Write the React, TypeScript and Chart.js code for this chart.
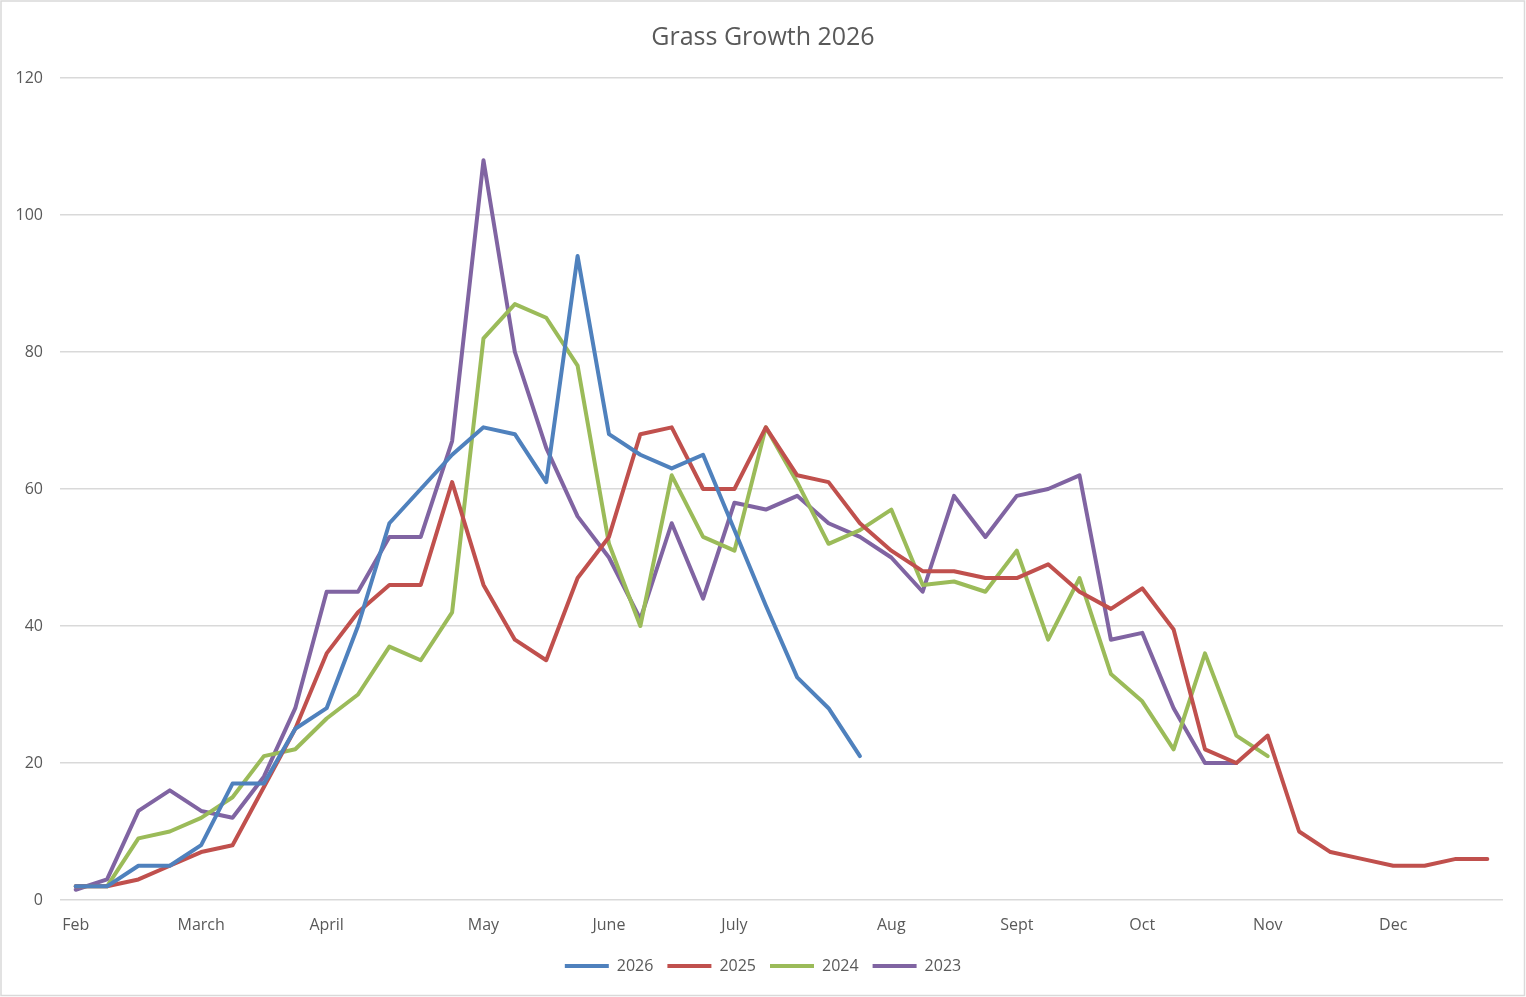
import React, { useEffect, useRef } from "react";
import { Chart, registerables } from "chart.js";

Chart.register(...registerables);

const monthLabels: string[] = [
  "Feb", "", "", "", "March", "", "", "", "April", "", "", "", "", "May", "", "", "",
  "June", "", "", "", "July", "", "", "", "", "Aug", "", "", "", "Sept", "", "", "",
  "Oct", "", "", "", "Nov", "", "", "", "Dec", "", "", "",
];

const series2026: (number | null)[] = [
  2, 2, 5, 5, 8, 17, 17, 25, 28, 40,
  55, 60, 65, 69, 68, 61, 94, 68, 65, 63,
  65, 54, 43, 32.5, 28, 21, null, null, null, null,
  null, null, null, null, null, null, null, null, null, null,
  null, null, null, null, null, null,
];

const series2025: (number | null)[] = [
  2, 2, 3, 5, 7, 8, 16.5, 25, 36, 42,
  46, 46, 61, 46, 38, 35, 47, 53, 68, 69,
  60, 60, 69, 62, 61, 55, 51, 48, 48, 47,
  47, 49, 45, 42.5, 45.5, 39.5, 22, 20, 24, 10,
  7, 6, 5, 5, 6, 6,
];

const series2024: (number | null)[] = [
  2, 2, 9, 10, 12, 15, 21, 22, 26.5, 30,
  37, 35, 42, 82, 87, 85, 78, 52, 40, 62,
  53, 51, 69, 61, 52, 54, 57, 46, 46.5, 45,
  51, 38, 47, 33, 29, 22, 36, 24, 21, null,
  null, null, null, null, null, null,
];

const series2023: (number | null)[] = [
  1.5, 3, 13, 16, 13, 12, 18, 28, 45, 45,
  53, 53, 67, 108, 80, 66, 56, 50, 41, 55,
  44, 58, 57, 59, 55, 53, 50, 45, 59, 53,
  59, 60, 62, 38, 39, 28, 20, 20, null, null,
  null, null, null, null, null, null,
];

const seriesNames = ["2026", "2025", "2024", "2023"];
const seriesColors = ["#4F81BD", "#C0504D", "#9BBB59", "#8064A2"];

const FONT = "'Open Sans', 'Noto Sans', sans-serif";
const TEXT = "#595959";

const borderPlugin = {
  id: "outerBorder",
  afterDraw(chart: any) {
    const ctx = chart.ctx;
    ctx.save();
    ctx.strokeStyle = "#d9d9d9";
    ctx.lineWidth = 1.5;
    ctx.strokeRect(1, 1, 1523.5, 994.5);
    ctx.restore();
  },
  beforeDraw(chart: any) {
    const ctx = chart.ctx;
    ctx.save();
    ctx.fillStyle = "#ffffff";
    ctx.fillRect(0, 0, chart.width, chart.height);
    ctx.restore();
  },
};

export default function App() {
  const ref = useRef<HTMLCanvasElement | null>(null);

  useEffect(() => {
    document.body.style.margin = "0";
    if (!ref.current) return;
    const all = [series2026, series2025, series2024, series2023];
    const chart = new Chart(ref.current, {
      type: "line",
      data: {
        labels: monthLabels,
        datasets: all.map((d, i) => ({
          label: seriesNames[i],
          data: d,
          borderColor: seriesColors[i],
          backgroundColor: seriesColors[i],
          borderWidth: 4,
          pointRadius: 0,
          pointHoverRadius: 0,
          tension: 0,
          borderJoinStyle: "round" as const,
          borderCapStyle: "round" as const,
          spanGaps: false,
          yAxisID: "y",
        })),
      },
      options: {
        responsive: false,
        animation: false,
        devicePixelRatio: 1,
        layout: { padding: { top: 0, left: 0, right: 0, bottom: 13 } },
        plugins: {
          title: {
            display: true,
            text: "Grass Growth 2026",
            color: TEXT,
            font: { family: FONT, size: 25, weight: "normal" },
            padding: { top: 23, bottom: 25 },
          },
          legend: {
            display: true,
            position: "bottom",
            labels: {
              usePointStyle: true,
              pointStyle: "line",
              pointStyleWidth: 44,
              padding: 14,
              color: TEXT,
              font: { family: FONT, size: 16 },
            },
          },
          tooltip: { enabled: false },
        },
        scales: {
          x: {
            offset: true,
            grid: { display: false, drawTicks: false },
            border: { display: false },
            ticks: {
              autoSkip: false,
              maxRotation: 0,
              minRotation: 0,
              padding: 16,
              color: TEXT,
              font: { family: FONT, size: 16 },
            },
            afterFit(scale: any) {
              scale.height = 44;
            },
          },
          y: {
            min: 0,
            max: 120,
            position: "left",
            ticks: {
              stepSize: 20,
              padding: 17,
              color: TEXT,
              font: { family: FONT, size: 16 },
            },
            grid: { color: "#d9d9d9", lineWidth: 1.5, drawTicks: false },
            border: { display: false },
            afterFit(scale: any) {
              scale.width = 60;
            },
          },
          y2: {
            position: "right",
            display: true,
            grid: { display: false, drawTicks: false },
            border: { display: false },
            ticks: { display: false },
            afterFit(scale: any) {
              scale.width = 23;
            },
          },
        },
      },
      plugins: [borderPlugin],
    });
    return () => chart.destroy();
  }, []);

  return (
    <div style={{ position: "fixed", left: 0, top: 0, width: 1526, height: 997, background: "#fff" }}>
      <canvas ref={ref} width={1526} height={997} style={{ display: "block", width: 1526, height: 997 }} />
    </div>
  );
}
